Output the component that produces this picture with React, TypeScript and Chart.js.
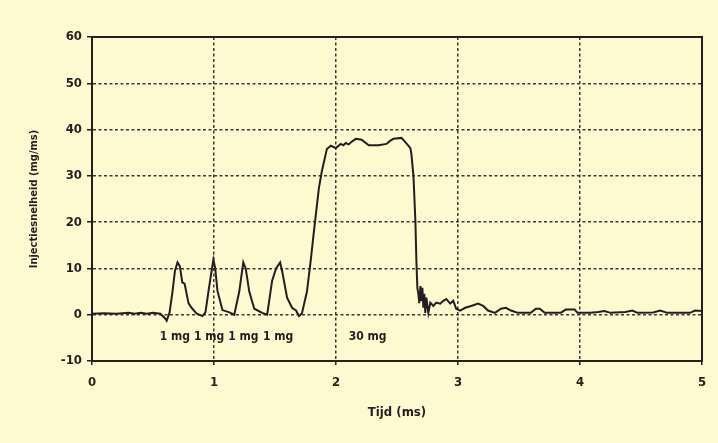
import { useEffect, useRef } from 'react';
import { Chart, registerables } from 'chart.js';

Chart.register(...registerables);

// Time (ms)
const times = [
  0.0, 0.1, 0.2, 0.3, 0.35, 0.4, 0.45, 0.5, 0.56, 0.6, 0.612, 0.636, 0.66, 0.68, 0.701, 0.72, 0.74, 0.759,
  0.791, 0.816, 0.856, 0.905, 0.93, 0.96, 0.995, 1.01, 1.028, 1.069, 1.126, 1.166, 1.207, 1.24, 1.26,
  1.289, 1.33, 1.395, 1.436, 1.476, 1.509, 1.542, 1.558, 1.599, 1.64, 1.672, 1.697, 1.721, 1.762, 1.794,
  1.819, 1.86, 1.884, 1.925, 1.958, 1.998, 2.039, 2.06, 2.08, 2.104, 2.13, 2.162, 2.21, 2.268, 2.349,
  2.414, 2.44, 2.471, 2.537, 2.577, 2.61, 2.618, 2.635, 2.651, 2.659, 2.667, 2.675, 2.683, 2.692, 2.7,
  2.708, 2.716, 2.724, 2.732, 2.741, 2.757, 2.773, 2.798, 2.822, 2.855, 2.879, 2.904, 2.936, 2.961,
  2.985, 3.018, 3.059, 3.108, 3.165, 3.206, 3.246, 3.303, 3.352, 3.393, 3.434, 3.491, 3.548, 3.597,
  3.638, 3.67, 3.711, 3.76, 3.842, 3.883, 3.956, 3.98, 4.086, 4.15, 4.2, 4.25, 4.372, 4.429, 4.47, 4.6,
  4.657, 4.715, 4.902, 4.943, 5.0,
];

// Injection rate (mg/ms)
const rates = [
  0.2, 0.3, 0.2, 0.4, 0.2, 0.4, 0.2, 0.4, 0.2, -0.8, -1.3, 0.5, 5, 9.5, 11.3, 10.5, 7, 6.7,
  2.5, 1.5, 0.3, -0.3, 0.5, 6, 11.9, 10, 5.2, 1.0, 0.5, 0.0, 5, 11.3, 10,
  5, 1.3, 0.4, 0.0, 7.3, 10, 11.3, 9.5, 3.7, 1.5, 0.9, -0.3, 0.3, 5, 12,
  18, 27.4, 31, 35.8, 36.5, 36, 36.9, 36.6, 37.1, 36.8, 37.4, 38, 37.8, 36.6, 36.6,
  36.9, 37.5, 38, 38.2, 37, 36, 34.7, 30, 20, 11.6, 5.8, 4.5, 2.5, 6.2, 3,
  5.8, 1.5, 4.5, 0.4, 3.7, 0.4, 2.6, 1.9, 2.6, 2.4, 3, 3.4, 2.4, 3,
  1.3, 0.9, 1.5, 1.9, 2.4, 1.9, 0.9, 0.4, 1.3, 1.5, 0.9, 0.4, 0.4, 0.4,
  1.3, 1.3, 0.4, 0.4, 0.4, 1.1, 1.1, 0.4, 0.4, 0.6, 0.8, 0.4, 0.6, 0.9, 0.4, 0.5,
  0.9, 0.4, 0.4, 0.9, 0.8,
];

const xMin = 0;
const xMax = 5;
const xStep = 1;
const yMin = -10;
const yMax = 60;
const yStep = 10;

const noteLabels = ['1 mg', '1 mg', '1 mg', '1 mg', '30 mg'];
const noteTimes = [0.68, 0.96, 1.24, 1.525, 2.26];
const noteLevel = -4.7;

const xTitle = 'Tijd (ms)';
const yTitle = 'Injectiesnelheid (mg/ms)';

const BG = '#FFF9D1';
const INK = '#231F20';
const FONT = "'DejaVu Sans Condensed', 'DejaVu Sans', sans-serif";

const bgPlugin = {
  id: 'bgFill',
  beforeDraw(chart: any) {
    const { ctx, width, height } = chart;
    ctx.save();
    ctx.fillStyle = BG;
    ctx.fillRect(0, 0, width, height);
    ctx.restore();
  },
};

const framePlugin = {
  id: 'frame',
  afterDraw(chart: any) {
    const { ctx, chartArea } = chart;
    ctx.save();
    ctx.strokeStyle = INK;
    ctx.lineWidth = 2;
    ctx.strokeRect(chartArea.left, chartArea.top, chartArea.right - chartArea.left, chartArea.bottom - chartArea.top);
    ctx.restore();
  },
};

const notesPlugin = {
  id: 'notes',
  afterDatasetsDraw(chart: any) {
    const { ctx, scales } = chart;
    ctx.save();
    ctx.fillStyle = INK;
    ctx.font = `bold 12px ${FONT}`;
    ctx.textAlign = 'center';
    ctx.textBaseline = 'middle';
    noteLabels.forEach((label, i) => {
      ctx.fillText(label, scales.x.getPixelForValue(noteTimes[i]), scales.y.getPixelForValue(noteLevel));
    });
    ctx.restore();
  },
};

export default function App() {
  const canvasRef = useRef<HTMLCanvasElement | null>(null);

  useEffect(() => {
    document.body.style.margin = '0';
    const canvas = canvasRef.current;
    if (!canvas) return;
    const points = times.map((t, i) => ({ x: t, y: rates[i] }));
    const chart = new Chart(canvas, {
      type: 'line',
      data: {
        datasets: [
          {
            data: points,
            borderColor: INK,
            borderWidth: 2,
            pointRadius: 0,
            tension: 0,
            fill: false,
          },
        ],
      },
      options: {
        animation: false,
        responsive: false,
        maintainAspectRatio: false,
        layout: { padding: { top: 37, right: 16, left: 0, bottom: 0 } },
        plugins: {
          legend: { display: false },
          tooltip: { enabled: false },
        },
        scales: {
          x: {
            type: 'linear',
            min: xMin,
            max: xMax,
            afterFit(scale: any) {
              scale.height = 82;
            },
            ticks: {
              stepSize: xStep,
              color: INK,
              font: { family: FONT, size: 13, weight: 'bold' },
              padding: 10,
              maxRotation: 0,
            },
            grid: {
              color: '#3a3a3a',
              lineWidth: 1.5,
              tickLength: 4,
              tickColor: INK,
              tickWidth: 1.5,
            },
            border: { color: INK, width: 2, dash: [3, 2.5] },
            title: {
              display: true,
              text: xTitle,
              color: INK,
              font: { family: FONT, size: 13, weight: 'bold' },
              padding: { top: 0, bottom: 23 },
            },
          },
          y: {
            type: 'linear',
            min: yMin,
            max: yMax,
            afterFit(scale: any) {
              scale.width = 92;
            },
            ticks: {
              stepSize: yStep,
              color: INK,
              font: { family: FONT, size: 13, weight: 'bold' },
              padding: 5,
            },
            grid: {
              color: '#3a3a3a',
              lineWidth: 1.5,
              tickLength: 5,
              tickColor: INK,
              tickWidth: 1.5,
            },
            border: { color: INK, width: 2, dash: [3, 2.5] },
            title: {
              display: true,
              text: yTitle,
              color: INK,
              font: { family: FONT, size: 11, weight: 'bold' },
              padding: { top: 28, bottom: 0 },
            },
          },
        },
      } as any,
      plugins: [bgPlugin, framePlugin, notesPlugin],
    });
    return () => chart.destroy();
  }, []);

  return (
    <div style={{ position: 'fixed', left: 0, top: 0, width: 718, height: 443 }}>
      <canvas ref={canvasRef} width={718} height={443} style={{ display: 'block', width: 718, height: 443 }} />
    </div>
  );
}
